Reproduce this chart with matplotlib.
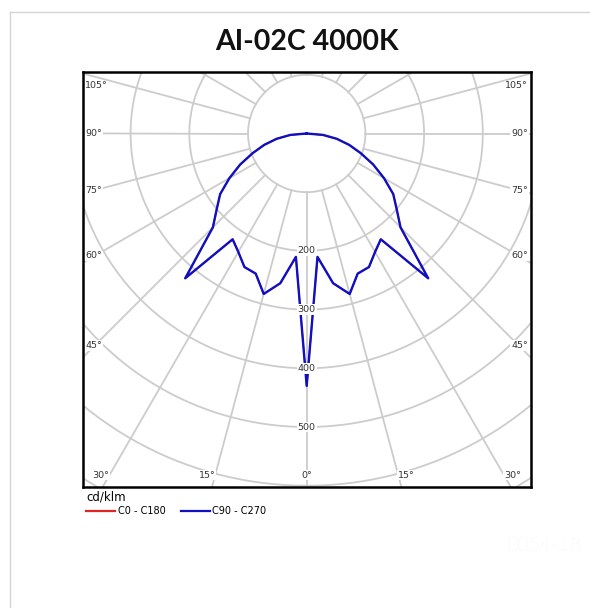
import numpy as np
import matplotlib.pyplot as plt
from matplotlib.lines import Line2D

# photometric data, cd/klm (symmetric)
gamma = [0, 5, 10, 15, 20, 25, 30, 35, 40, 45, 50, 55, 60, 65, 70, 75, 80, 85, 90]
c0_c180 = [430, 211, 259, 283, 254, 251, 233, 220, 322, 226, 200, 180, 152, 125, 98, 75, 52, 28, 0]
c90_c270 = [430, 211, 259, 283, 254, 251, 233, 220, 322, 226, 200, 180, 152, 125, 98, 75, 52, 28, 0]

ring_values = [100, 200, 300, 400, 500, 600, 700]
ring_labels = [200, 300, 400, 500]
side_angles = [105, 90, 75, 60, 45]
bottom_angles = [-30, -15, 0, 15, 30]

W, H = 590, 608
fig = plt.figure(figsize=(W / 100, H / 100), dpi=100)

# plot box in pixels and polar centre
x0, x1, y0, y1 = 83, 531, 72, 487
cx, cy = 306.7, 133.5
s = 0.587  # px per cd

ax = fig.add_axes([x0 / W, 1 - y1 / H, (x1 - x0) / W, (y1 - y0) / H])
ax.set_xlim((x0 - cx) / s, (x1 - cx) / s)
ax.set_ylim(-(y1 - cy) / s, (cy - y0) / s)
ax.set_xticks([])
ax.set_yticks([])
for sp in ax.spines.values():
    sp.set_linewidth(1.8)
    sp.set_color("black")
    sp.set_zorder(10)

grid_kw = dict(color="#cccccc", lw=1.3, zorder=1)
t = np.linspace(0, 2 * np.pi, 400)
for r in ring_values:
    ax.plot(r * np.sin(t), -r * np.cos(t), **grid_kw)
for a in range(0, 360, 15):
    ar = np.radians(a)
    ax.plot([100 * np.sin(ar), 900 * np.sin(ar)], [-100 * np.cos(ar), -900 * np.cos(ar)], **grid_kw)


def to_xy(angles, values, side):
    g = np.radians(angles)
    v = np.asarray(values, dtype=float)
    return side * v * np.sin(g), -v * np.cos(g)


def full_curve(values):
    xr, yr = to_xy(gamma, values, 1)
    xl, yl = to_xy(gamma, values, -1)
    return np.concatenate([xl[::-1], xr[1:]]), np.concatenate([yl[::-1], yr[1:]])


xr_, yr_ = full_curve(c0_c180)
red, = ax.plot(xr_, yr_, color="#e02424", lw=1.1, zorder=3, label="C0 - C180")
xb_, yb_ = full_curve(c90_c270)
blue, = ax.plot(xb_, yb_, color="#1010c0", lw=1.7, zorder=4, label="C90 - C270")

lab_kw = dict(fontsize=6.8, color="#333333", zorder=5,
              bbox=dict(facecolor="white", edgecolor="none", pad=0.6))

for r in ring_labels:
    ax.text(0, -r, str(r), ha="center", va="center", **lab_kw)

xl_lim, xr_lim = ax.get_xlim()
yb_lim, yt_lim = ax.get_ylim()
for a in side_angles:
    ar = np.radians(a)
    xi = 212 / s
    yi = -xi / np.tan(ar) if a != 90 else 0
    yi = min(yi, yt_lim - 14 / s)
    ax.text(xl_lim + 2 / s, yi, f"{a}°", ha="left", va="center", **lab_kw)
    ax.text(xr_lim - 3 / s, yi, f"{a}°", ha="right", va="center", **lab_kw)

yb = yb_lim + 12 / s
for a in bottom_angles:
    xi = -yb * np.tan(np.radians(a))
    ha = "center" if a == 0 else ("right" if a < 0 else "left")
    ax.text(xi, yb, f"{abs(a)}°", ha=ha, va="center", **lab_kw)

leg = fig.legend(handles=[red, blue], loc="upper left", bbox_to_anchor=(86 / W, 1 - 491 / H),
                 ncol=2, frameon=False, fontsize=7, title="cd/klm", title_fontsize=8.5,
                 alignment="left", handlelength=3.0, handletextpad=0.25, columnspacing=1.6,
                 borderpad=0, borderaxespad=0, labelspacing=0.2)
for h in leg.legend_handles:
    h.set_linewidth(1.6)

fig.text(307 / W, 1 - 42 / H, "AI-02C 4000K", ha="center", va="center",
         fontsize=20.5, fontweight="bold", family="Lato", color="#111111")
fig.text(544 / W, 1 - 546 / H, "0054-18", ha="center", va="center",
         fontsize=14, family="Lato", fontweight="light", color="#ebebeb")

fig.add_artist(Line2D([10 / W, 1], [1 - 12 / H, 1 - 12 / H], transform=fig.transFigure,
                      color="#d4d4d4", lw=1))
fig.add_artist(Line2D([10 / W, 10 / W], [0, 1 - 12 / H], transform=fig.transFigure,
                      color="#d4d4d4", lw=1))

fig.savefig("out.png", dpi=100)
